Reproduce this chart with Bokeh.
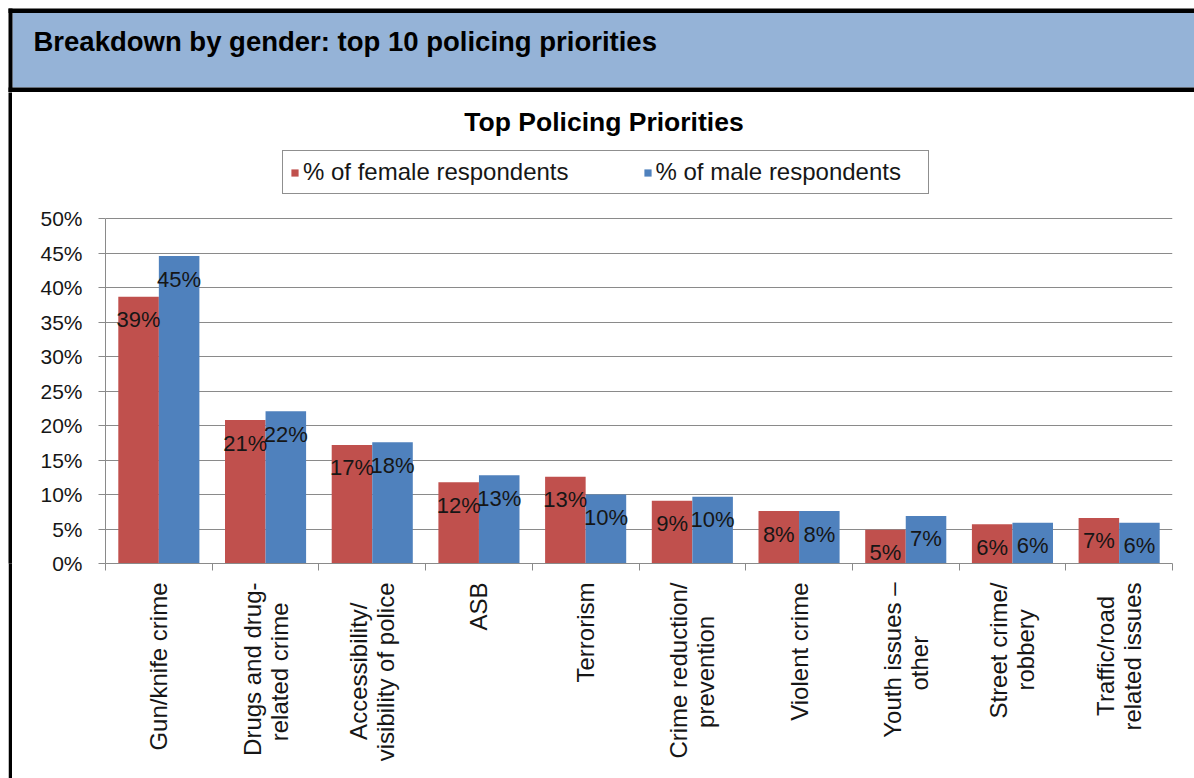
import math
from bokeh.plotting import figure
from bokeh.layouts import column, row
from bokeh.models import (Range1d, LinearAxis, FixedTicker, Spacer,
                          PrintfTickFormatter, CustomJSTickFormatter, ColumnDataSource,
                          Legend, LegendItem, Label)
from bokeh.transform import dodge
from bokeh.core.properties import value
from bokeh.embed import file_html
from bokeh.resources import INLINE

# ---------------- data ----------------
categories = ["Gun/knife crime", "Drugs and drug-\nrelated crime", "Accessibility/\nvisibility of police",
              "ASB", "Terrorism", "Crime reduction/\nprevention", "Violent crime",
              "Youth issues –\nother", "Street crime/\nrobbery", "Traffic/road\nrelated issues"]
female = [38.7, 20.8, 17.2, 11.8, 12.6, 9.1, 7.6, 4.9, 5.7, 6.6]
male = [44.6, 22.1, 17.6, 12.8, 10.0, 9.7, 7.6, 6.9, 5.9, 5.9]
series_names = ["% of female respondents", "% of male respondents"]
y_ticks = [0, 5, 10, 15, 20, 25, 30, 35, 40, 45, 50]
header_text = "Breakdown by gender: top 10 policing priorities"
chart_title = "Top Policing Priorities"

# ---------------- layout constants (page pixels) ----------------
W, H = 1194, 778
HEAD_H = 92                  # header strip height
GAP_W, RULE_W = 8, 4         # white gap + black rule at the left
FONT = "Liberation Sans"
RED, BLUE, HEAD_BLUE = "#C0504D", "#4F81BD", "#95B3D7"
GRID = "#8A8A8A"
TXT = "#161616"
N = len(categories)
CAT_FONT_PX = 24

CH_W, CH_H = W - GAP_W - RULE_W, H - HEAD_H   # chart figure size
F_LEFT, F_RIGHT = 105, 1172                    # frame left/right (page)
F_TOP, F_BOTTOM = HEAD_H, 563                  # frame top/bottom (page); bottom = 0 %
P50 = 218.3                                    # page y of the 50 % line
PX_PER_PCT = (F_BOTTOM - P50) / 50.0
Y_MAX = (F_BOTTOM - F_TOP) / PX_PER_PCT
CAT_W = (F_RIGHT - F_LEFT) / N


def dx(px):   # page x -> data x
    return (px - F_LEFT) / CAT_W


def dy(py):   # page y -> data y
    return (F_BOTTOM - py) / PX_PER_PCT


def bare(fig):
    fig.outline_line_color = None
    fig.grid.visible = False
    return fig


# ---------------- header strip ----------------
hd = bare(figure(width=W, height=HEAD_H, x_range=Range1d(0, W), y_range=Range1d(HEAD_H, 0),
                 output_backend="svg", toolbar_location=None, min_border=0,
                 x_axis_location=None, y_axis_location=None, title=None,
                 background_fill_color="white", border_fill_color="white"))
L0, L1 = GAP_W, GAP_W + RULE_W
hd.quad(left=[L0, L1, L0, L0], right=[W, W, W, L1], top=[8, 12.5, 87, 8], bottom=[12.5, 87, 91.5, HEAD_H],
        fill_color=["black", HEAD_BLUE, "black", "black"], line_color=None)
hd.text(x=[33], y=[41], text=[header_text], text_baseline="middle", text_align="left",
        text_font=value(FONT), text_font_style="bold", text_font_size="27.5px", text_color="black")

# ---------------- left rule ----------------
gap = Spacer(width=GAP_W, height=CH_H, margin=0)
rule = bare(figure(width=RULE_W, height=CH_H, x_range=Range1d(0, 1), y_range=Range1d(0, 1),
                   output_backend="svg", toolbar_location=None, min_border=0,
                   x_axis_location=None, y_axis_location=None, title=None,
                   background_fill_color="black", border_fill_color="black"))

# ---------------- chart ----------------
p = bare(figure(width=CH_W, height=CH_H,
                x_range=Range1d(0, N), y_range=Range1d(0, Y_MAX),
                output_backend="svg", toolbar_location=None, title=None,
                x_axis_location=None,
                min_border_left=F_LEFT - GAP_W - RULE_W, min_border_right=W - F_RIGHT,
                min_border_top=0, min_border_bottom=H - F_BOTTOM,
                background_fill_color="white", border_fill_color="white"))
p.ygrid.visible = True

centers = [i + 0.5 for i in range(N)]
src = ColumnDataSource(dict(
    pos=centers, female=female, male=male,
    flab=[f"{int(v + 0.5)}%" for v in female],
    mlab=[f"{int(v + 0.5)}%" for v in male],
))

rf = p.vbar(x=dodge("pos", -0.19), top="female", width=0.38,
            source=src, fill_color=RED, line_color=None)
rm = p.vbar(x=dodge("pos", 0.19), top="male", width=0.38,
            source=src, fill_color=BLUE, line_color=None)

for ycol, tcol, off in (("female", "flab", -0.19), ("male", "mlab", 0.19)):
    p.text(x=dodge("pos", off), y=ycol,
           text=tcol, source=src, text_align="center", text_baseline="middle",
           y_offset=23, text_font=value(FONT), text_font_size="22px", text_color=TXT)

# y axis
yax = p.yaxis[0]
yax.bounds = (0, 50)
yax.ticker = FixedTicker(ticks=y_ticks)
yax.formatter = PrintfTickFormatter(format="%d%%")
yax.major_tick_out = 7
yax.major_tick_in = 0
yax.minor_tick_line_color = None
yax.axis_line_color = GRID
yax.major_tick_line_color = GRID
yax.major_label_standoff = 16
yax.major_label_text_font = FONT
yax.major_label_text_font_size = "21px"
yax.major_label_text_color = TXT

p.ygrid.ticker = FixedTicker(ticks=y_ticks)
p.ygrid.grid_line_color = GRID
p.ygrid.grid_line_width = 1

# x axis: boundary ticks + category labels
tick_axis = LinearAxis(ticker=FixedTicker(ticks=list(range(N + 1))),
                       formatter=CustomJSTickFormatter(code="return ''"),
                       major_tick_out=7, major_tick_in=0, minor_tick_line_color=None,
                       axis_line_color=GRID, major_tick_line_color=GRID,
                       major_label_standoff=0, major_label_text_font_size="1px")
p.add_layout(tick_axis, "below")

# category names; the lines of a two-line name are centred on each other
cat_formatter = CustomJSTickFormatter(args=dict(labels=categories, font=f"{CAT_FONT_PX}px '{FONT}'"), code="""
    const i = Math.round(tick - 0.5)
    const lab = labels[i]
    const lines = lab.split("\\n")
    if (lines.length < 2) return lab
    const ctx = document.createElement("canvas").getContext("2d")
    ctx.font = font
    const w = lines.map((l) => ctx.measureText(l).width)
    const mw = Math.max(...w)
    const sp = ctx.measureText("\\u00a0").width
    return lines.map((l, k) => l + "\\u00a0".repeat(Math.round((mw - w[k]) / 2 / sp))).join("\\n")
""")
cat_axis = LinearAxis(ticker=FixedTicker(ticks=centers), formatter=cat_formatter,
                      major_label_orientation=math.pi / 2,
                      axis_line_color=None, major_tick_line_color=None, minor_tick_line_color=None,
                      major_tick_out=0, major_tick_in=0,
                      major_label_standoff=12,
                      major_label_text_font=FONT, major_label_text_font_size=f"{CAT_FONT_PX}px",
                      major_label_text_color=TXT,
                      major_label_text_line_height=1.0)
p.add_layout(cat_axis, "below")

# chart title
p.add_layout(Label(x=dx(603.5), y=dy(121), text=chart_title,
                   text_font=FONT, text_font_style="bold", text_font_size="26.5px",
                   text_color="black", text_baseline="middle", text_align="center"))

# legend
legend = Legend(items=[LegendItem(label=series_names[0], renderers=[rf]),
                       LegendItem(label=series_names[1], renderers=[rm])],
                orientation="horizontal", location=(282 - F_LEFT, F_BOTTOM - 194),
                glyph_width=9, glyph_height=9, label_standoff=4,
                label_width=265, spacing=74, padding=7, margin=0,
                border_line_color="#202020", border_line_width=1,
                label_text_font=FONT, label_text_font_size="24px", label_text_color=TXT,
                background_fill_color="white", background_fill_alpha=1)
p.add_layout(legend, "center")

layout = column(hd, row(gap, rule, p, spacing=0), spacing=0)
open("out.html", "w").write(file_html(layout, INLINE))
